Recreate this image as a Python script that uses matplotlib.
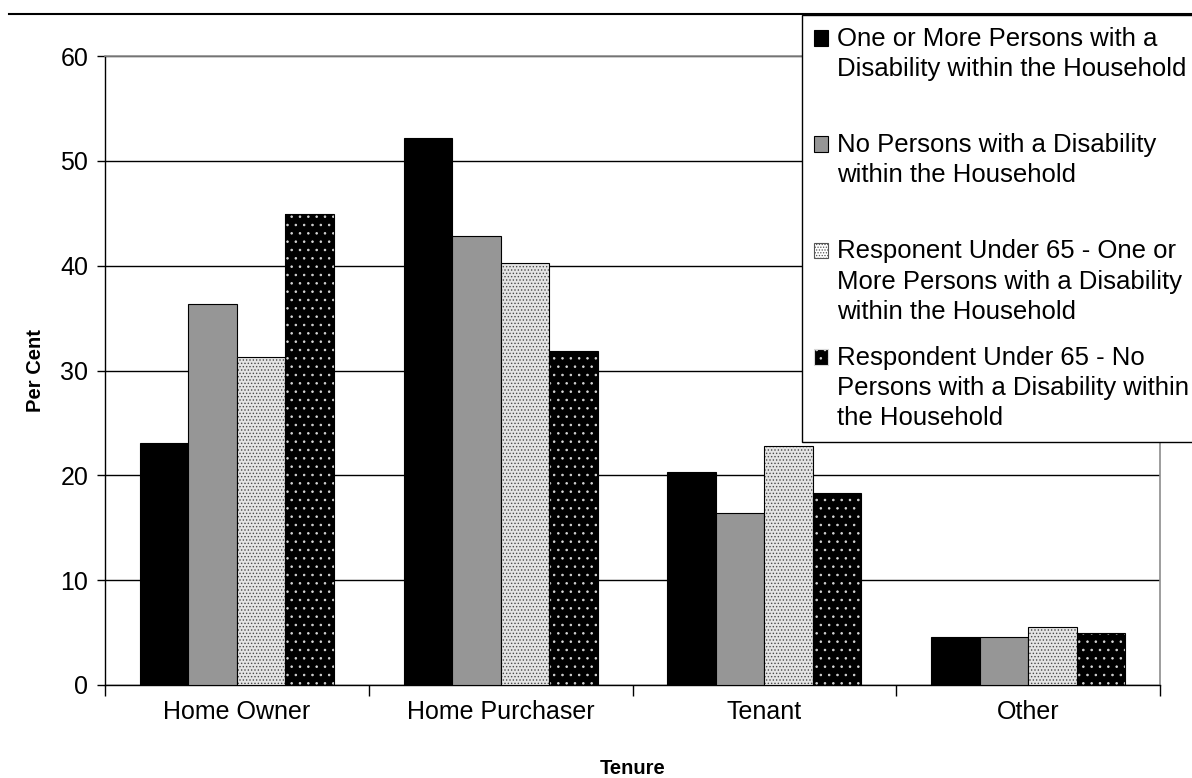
import matplotlib
matplotlib.use("Agg")
import matplotlib.pyplot as plt
import numpy as np
from matplotlib.lines import Line2D
from matplotlib.patches import Rectangle

plt.rcParams['font.family'] = ['Liberation Sans', 'DejaVu Sans']
plt.rcParams['hatch.linewidth'] = 0.6

categories = ['Home Owner', 'Home Purchaser', 'Tenant', 'Other']
series_names = [
    'One or More Persons with a\nDisability within the Household\n ',
    'No Persons with a Disability\nwithin the Household\n ',
    'Responent Under 65 - One or\nMore Persons with a Disability\nwithin the Household',
    'Respondent Under 65 - No\nPersons with a Disability within\nthe Household',
]
disab_hh = [23.1, 52.2, 20.3, 4.6]
no_disab_hh = [36.3, 42.8, 16.4, 4.6]
under65_disab = [31.3, 40.3, 22.8, 5.5]
under65_no_disab = [44.9, 31.9, 18.3, 5.0]

fig = plt.figure(figsize=(11.92, 7.78), dpi=100)
ax = fig.add_axes([105/1192, 1-685/778, (1160-105)/1192, (685-56)/778])

x = np.arange(len(categories))
w = 0.184
offs = [-1.5*w, -0.5*w, 0.5*w, 1.5*w]

# plain bars
ax.bar(x + offs[0], disab_hh, w, color='black', edgecolor='black', lw=0.8, zorder=3)
ax.bar(x + offs[1], no_disab_hh, w, color='#969696', edgecolor='black', lw=0.8, zorder=3)

# dotted bars: hatch layer then outline layer
ax.bar(x + offs[2], under65_disab, w, color='#e4e4e4', edgecolor='#4a4a4a', hatch='.....', lw=0, zorder=3)
ax.bar(x + offs[2], under65_disab, w, fill=False, edgecolor='black', lw=0.8, zorder=4)
ax.bar(x + offs[3], under65_no_disab, w, color='black', edgecolor='#d8d8d8', hatch='..', lw=0, zorder=3)
ax.bar(x + offs[3], under65_no_disab, w, fill=False, edgecolor='black', lw=0.8, zorder=4)

ax.set_xlim(-0.5, 3.5)
ax.set_ylim(0, 60)
ax.set_yticks(range(0, 61, 10))
ax.yaxis.grid(True, color='black', lw=1.0, zorder=0)
ax.set_axisbelow(True)

ax.set_xticks(np.arange(-0.5, 4, 1))
ax.set_xticklabels([])
ax.set_xticks(x, minor=True)
ax.set_xticklabels(categories, minor=True)
ax.tick_params(axis='x', which='major', length=8, width=1, direction='out')
ax.tick_params(axis='x', which='minor', length=0, pad=11, labelsize=18)
ax.tick_params(axis='y', length=6, width=1, direction='out', labelsize=18, pad=6)

for s in ['top', 'right']:
    ax.spines[s].set_color('#8c8c8c')
    ax.spines[s].set_linewidth(1.2)
for s in ['left', 'bottom']:
    ax.spines[s].set_color('black')
    ax.spines[s].set_linewidth(1.0)

ax.set_xlabel('Tenure', fontsize=14.5, fontweight='bold', labelpad=25)
ax.set_ylabel('Per Cent', fontsize=14.5, fontweight='bold', labelpad=11)

# legend handles: square patches with the same fills
h1 = Rectangle((0, 0), 1, 1, facecolor='black', edgecolor='black', lw=0.8)
h2 = Rectangle((0, 0), 1, 1, facecolor='#969696', edgecolor='black', lw=0.8)
h3 = Rectangle((0, 0), 1, 1, facecolor='white', edgecolor='#555555', hatch='......', lw=0.8)
h4 = Rectangle((0, 0), 1, 1, facecolor='black', edgecolor='#d8d8d8', hatch='..', lw=0.8)

leg = fig.legend([h1, h2, h3, h4], series_names, loc='upper left',
                 bbox_to_anchor=(802/1192, 1-15/778), borderaxespad=0,
                 fontsize=18.5, frameon=True, fancybox=False, edgecolor='black',
                 framealpha=1, handlelength=0.56, handleheight=0.56,
                 handletextpad=0.35, labelspacing=0.85, borderpad=0.45)
leg.get_frame().set_linewidth(1.0)
for t in leg.get_texts():
    t.set_linespacing(1.33)

# move handles up to sit beside the first line of each label
fig.canvas.draw()
line_h = 22.6
for h in leg.legend_handles:
    h.set_y(h.get_y() + line_h)

fig.add_artist(Line2D([9/1192, 1], [1-14/778, 1-14/778], color='black', lw=1.5,
                      transform=fig.transFigure))

fig.savefig('out.png', dpi=100)
